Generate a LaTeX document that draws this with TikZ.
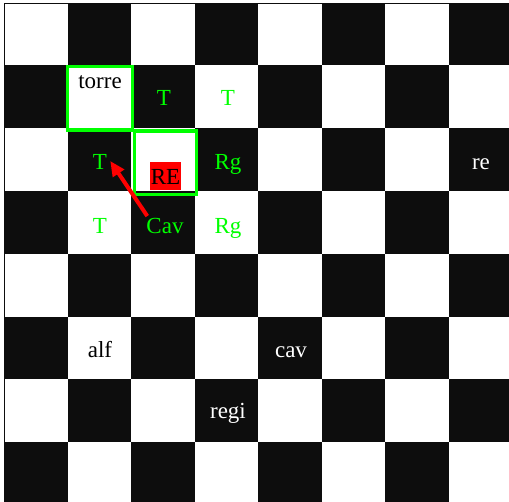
\documentclass[tikz,border=0pt]{standalone}
\usepackage{fontspec}
\setmainfont{Liberation Serif}
\usetikzlibrary{arrows.meta}
\definecolor{sq}{HTML}{0D0D0D}
\definecolor{limeg}{HTML}{00FF00}
\definecolor{ared}{HTML}{FF0000}
\begin{document}
\begin{tikzpicture}[x=1pt,y=-1pt,
  lbl/.style={font=\fontsize{23}{27}\selectfont, inner sep=2pt, anchor=base},
  grn/.style={lbl, text=limeg},
  wht/.style={lbl, text=white},
  blk/.style={lbl, text=black},
  hl/.style={draw=limeg, line width=3.3pt},
  movearrow/.style={draw=ared, line width=4pt, -{Triangle[length=15pt,width=13pt]}}]
\useasboundingbox (0,0) rectangle (509,502);
\begin{scope}
\clip (0,0) rectangle (509,502);
\fill[white] (0,0) rectangle (509,502);
\foreach \r in {0,...,7}{\foreach \c in {0,...,7}{
  \pgfmathtruncatemacro\odd{mod(\r+\c,2)}
  \ifnum\odd=1
    \pgfmathsetmacro\yt{max(4,2.1+62.9*\r)}
    \pgfmathsetmacro\yb{2.1+62.9*(\r+1)}
    \pgfmathsetmacro\xl{4+63.55*\c}
    \pgfmathsetmacro\xr{4+63.55*(\c+1)}
    \fill[sq] (\xl,\yt) rectangle (\xr,\yb);
  \fi
}}
\draw[line width=1pt, sq] (4,502) -- (4,4) -- (509,4);
\end{scope}
% highlighted squares
\draw[hl] (67.7,66.7) rectangle (132.3,130);
\draw[hl] (134.3,131) rectangle (196.7,194.3);
% labels
\node[blk] (torre) at (100,89) {torre};
\node[grn] (t1) at (164,105.5) {T};
\node[grn] (t2) at (228,105.5) {T};
\node[grn] (t3) at (100,169.5) {T};
\node[fill=ared, inner sep=0pt, text height=22.6pt, text depth=5.7pt, minimum width=31pt,
      font=\fontsize{23}{27}\selectfont, text=black, anchor=base] (king) at (165.5,184.3) {RE};
\node[grn] (rg1) at (228,169.5) {Rg};
\node[wht] (re) at (481,169.5) {re};
\node[grn] (t4) at (100,233.5) {T};
\node[grn] (cavg) at (165,233.5) {Cav};
\node[grn] (rg2) at (228,233.5) {Rg};
\node[blk] (alf) at (100,357.3) {alf};
\node[wht] (cav) at (291,357.3) {cav};
\node[wht] (regi) at (228,419) {regi};
% arrow
\draw[movearrow] ([xshift=3pt]cavg.north west) -- ([xshift=1pt,yshift=1pt]t3.east);
\end{tikzpicture}
\end{document}
